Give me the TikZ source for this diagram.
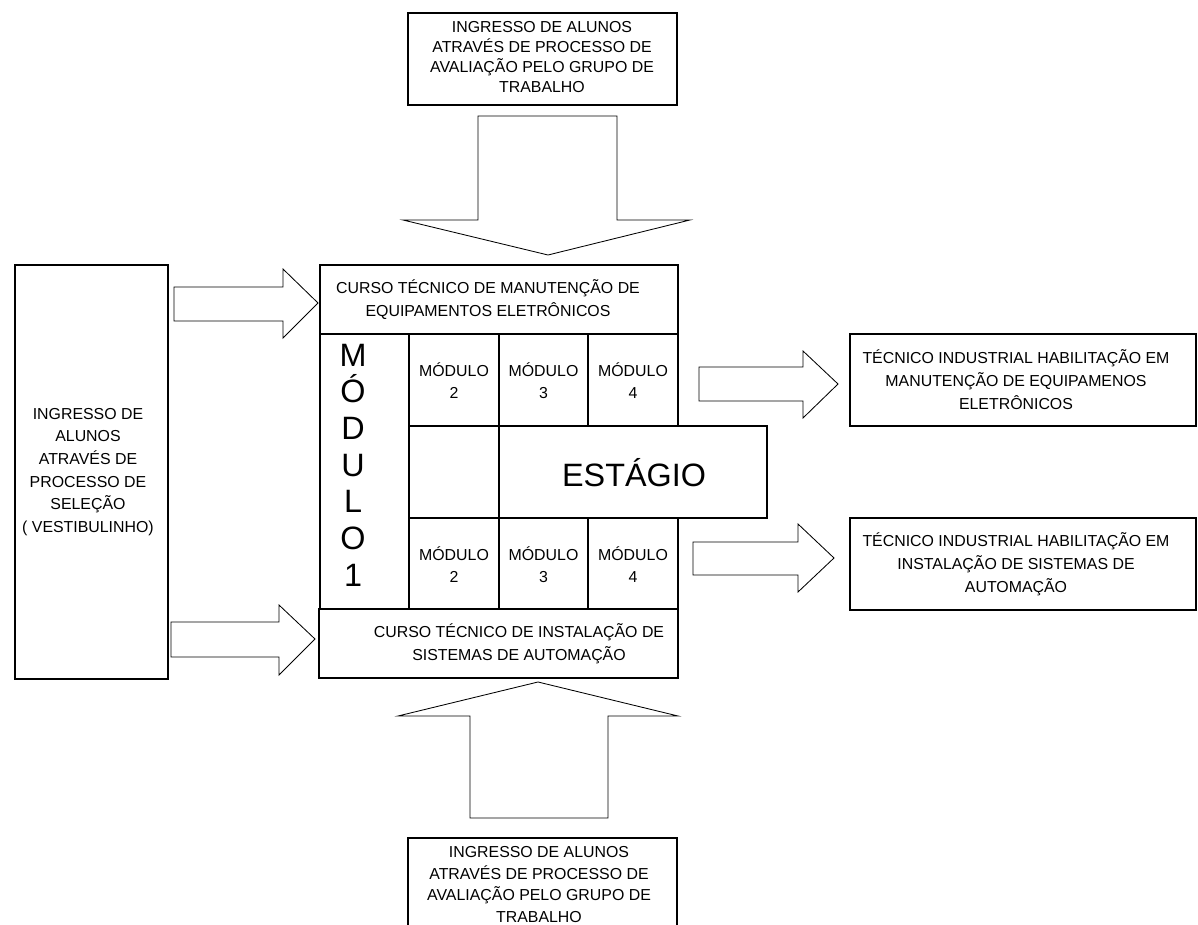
\documentclass[tikz,border=0pt]{standalone}
\usepackage{fontspec}
\setmainfont{Liberation Sans}
\begin{document}
\begin{tikzpicture}[x=0.025cm,y=-0.025cm,
  boxthick/.style={draw,line width=1.8pt,inner sep=0pt},
  boxthin/.style={draw,line width=0.9pt,inner sep=0pt},
  cell/.style={draw,line width=0.9pt,inner sep=0pt},
  blockarrow/.style={draw,line width=0.6pt,line join=miter,fill=white},
  txt/.style={align=center,inner sep=0pt,font=\fontsize{11.3}{14.4}\selectfont},
  bigtxt/.style={align=center,inner sep=0pt,font=\fontsize{23}{26.1}\selectfont}]
\useasboundingbox (0,0) rectangle (1198,925);
\clip (0,0) rectangle (1198,925);

% ---- helper: rectangles as named nodes (corner coordinates)
\newcommand{\boxat}[6]{% style, name, x1, y1, x2, y2
  \node[#1, minimum width={(#5-#3)*0.025cm}, minimum height={(#6-#4)*0.025cm}] (#2) at ({(#3+#5)/2},{(#4+#6)/2}) {};}

% ---- top entry box and arrow
\boxat{boxthin}{topbox}{408}{13}{677}{105}
\node[txt] (toptxt) at (542,57) {INGRESSO DE ALUNOS\\ATRAVÉS DE PROCESSO DE\\AVALIAÇÃO PELO GRUPO DE\\TRABALHO};
\draw[blockarrow] (478,116) -- (617,116) -- (617,220) -- (690,220) -- (548,255) -- (403,220) -- (478,220) -- cycle;

% ---- central block
\boxat{cell}{mod1}{320}{334}{409}{609}
\node[bigtxt] (mod1txt) at (353,465) {M\\Ó\\D\\U\\L\\O\\1};

\boxat{cell}{t2}{409}{334}{499}{426}
\boxat{cell}{t3}{499}{334}{588}{426}
\boxat{cell}{t4}{588}{334}{678}{426}
\node[txt,font=\fontsize{11.3}{15.6}\selectfont] (t2txt) at (454,381) {MÓDULO\\2};
\node[txt,font=\fontsize{11.3}{15.6}\selectfont] (t3txt) at (543.5,381) {MÓDULO\\3};
\node[txt,font=\fontsize{11.3}{15.6}\selectfont] (t4txt) at (633,381) {MÓDULO\\4};

\boxat{cell}{empty}{409}{426}{499}{518}

\boxat{cell}{b2}{409}{518}{499}{609}
\boxat{cell}{b3}{499}{518}{588}{609}
\boxat{cell}{b4}{588}{518}{678}{609}
\node[txt,font=\fontsize{11.3}{15.6}\selectfont] (b2txt) at (454,565) {MÓDULO\\2};
\node[txt,font=\fontsize{11.3}{15.6}\selectfont] (b3txt) at (543.5,565) {MÓDULO\\3};
\node[txt,font=\fontsize{11.3}{15.6}\selectfont] (b4txt) at (633,565) {MÓDULO\\4};

\boxat{boxthick}{estagio}{499}{426}{767}{518}
\node[bigtxt] (estagiotxt) at (634,473) {ESTÁGIO};

\boxat{boxthick}{coursetop}{320}{265}{678}{334}
\node[txt,font=\fontsize{11.3}{16.4}\selectfont] (coursetoptxt) at (488,299.5) {CURSO TÉCNICO DE MANUTENÇÃO DE\\EQUIPAMENTOS ELETRÔNICOS};

\boxat{boxthick}{coursebot}{319}{609}{678}{678}
\node[txt,font=\fontsize{11.3}{16.4}\selectfont] (coursebottxt) at (519,644) {CURSO TÉCNICO DE INSTALAÇÃO DE\\SISTEMAS DE AUTOMAÇÃO};

% ---- left entry box and arrows
\boxat{boxthick}{leftbox}{15}{265}{168}{679}
\node[txt,font=\fontsize{11.3}{16.1}\selectfont] (lefttxt) at (88,472) {INGRESSO DE\\ALUNOS\\ATRAVÉS DE\\PROCESSO DE\\SELEÇÃO\\( VESTIBULINHO)};
\draw[blockarrow] (174,287) -- (283,287) -- (283,269) -- (318,303) -- (283,338) -- (283,321) -- (174,321) -- cycle;
\draw[blockarrow] (171,622) -- (279,622) -- (279,605) -- (315,639) -- (279,675) -- (279,657) -- (171,657) -- cycle;

% ---- right exit arrows and boxes
\draw[blockarrow] (699,367) -- (803,367) -- (803,351) -- (838,384) -- (803,418) -- (803,401) -- (699,401) -- cycle;
\draw[blockarrow] (693,542) -- (798,542) -- (798,524) -- (834,558) -- (798,592) -- (798,575) -- (693,575) -- cycle;
\boxat{boxthin}{rtop}{850}{334}{1196}{426}
\node[txt,font=\fontsize{11.3}{16.4}\selectfont] (rtoptxt) at (1016,380) {TÉCNICO INDUSTRIAL HABILITAÇÃO EM\\MANUTENÇÃO DE EQUIPAMENOS\\ELETRÔNICOS};
\boxat{boxthin}{rbot}{850}{518}{1196}{610}
\node[txt,font=\fontsize{11.3}{16.4}\selectfont] (rbottxt) at (1016,564) {TÉCNICO INDUSTRIAL HABILITAÇÃO EM\\INSTALAÇÃO DE SISTEMAS DE\\AUTOMAÇÃO};

% ---- bottom entry arrow and box
\draw[blockarrow] (538,682) -- (678,716) -- (608,716) -- (608,818) -- (470,818) -- (470,716) -- (398,716) -- cycle;
\boxat{boxthin}{botbox}{408}{838}{677}{940}
\node[txt,font=\fontsize{11.3}{15.4}\selectfont] (bottxt) at (539,884.5) {INGRESSO DE ALUNOS\\ATRAVÉS DE PROCESSO DE\\AVALIAÇÃO PELO GRUPO DE\\TRABALHO};
\end{tikzpicture}
\end{document}
